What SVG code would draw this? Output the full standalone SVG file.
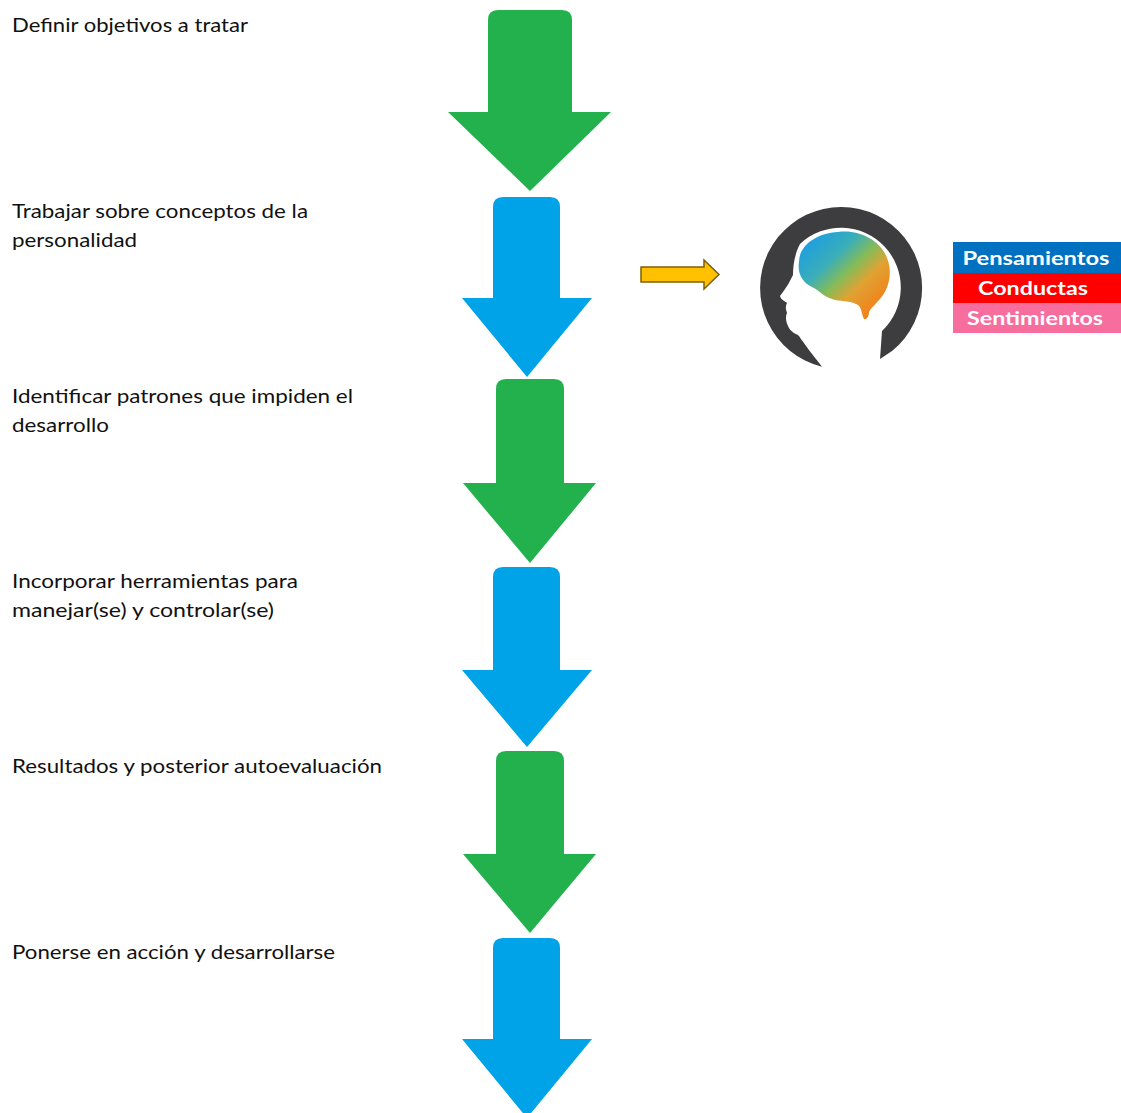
<svg xmlns="http://www.w3.org/2000/svg" width="1121" height="1113" viewBox="0 0 1121 1113">
<defs>
<style>
.lbl{font-family:Lato,"Liberation Sans",sans-serif;font-size:20px;fill:#111}
.g{fill:#22b14c}
.b{fill:#00a2e8}
.tag{font-family:Lato,"Liberation Sans",sans-serif;font-size:19px;font-weight:bold;fill:#fff;text-anchor:middle}
</style>
<linearGradient id="brainGrad" x1="0.1" y1="0.1" x2="0.9" y2="0.9">
<stop offset="0" stop-color="#1e9ee0"/>
<stop offset="0.3" stop-color="#3aaeb8"/>
<stop offset="0.5" stop-color="#86bb58"/>
<stop offset="0.68" stop-color="#e0a232"/>
<stop offset="1" stop-color="#f47c16"/>
</linearGradient>
</defs>
<rect width="1121" height="1113" fill="#fff"/>

<g id="step1">
<path class="g" d="M488,112 V20 Q488,10 498,10 H562 Q572,10 572,20 V112 H611 L530,191 L448,112 Z"/>
<text class="lbl" x="12" y="32" textLength="236" lengthAdjust="spacingAndGlyphs">Definir objetivos a tratar</text>
</g>
<g id="step2">
<path class="b" d="M493,298 V207 Q493,197 503,197 H550 Q560,197 560,207 V298 H592 L527,377 L462,298 Z"/>
<text class="lbl" x="12" y="218" textLength="296" lengthAdjust="spacingAndGlyphs">Trabajar sobre conceptos de la</text>
<text class="lbl" x="12" y="246.5" textLength="125" lengthAdjust="spacingAndGlyphs">personalidad</text>
</g>
<g id="step3">
<path class="g" d="M496,483 V389 Q496,379 506,379 H554 Q564,379 564,389 V483 H596 L530,563 L463,483 Z"/>
<text class="lbl" x="12" y="403" textLength="341" lengthAdjust="spacingAndGlyphs">Identificar patrones que impiden el</text>
<text class="lbl" x="12" y="432" textLength="97" lengthAdjust="spacingAndGlyphs">desarrollo</text>
</g>
<g id="step4">
<path class="b" d="M493,670 V577 Q493,567 503,567 H550 Q560,567 560,577 V670 H592 L527,747 L462,670 Z"/>
<text class="lbl" x="12" y="588" textLength="286" lengthAdjust="spacingAndGlyphs">Incorporar herramientas para</text>
<text class="lbl" x="12" y="617" textLength="262" lengthAdjust="spacingAndGlyphs">manejar(se) y controlar(se)</text>
</g>
<g id="step5">
<path class="g" d="M496,854 V761 Q496,751 506,751 H554 Q564,751 564,761 V854 H596 L530,933 L463,854 Z"/>
<text class="lbl" x="12" y="773" textLength="370" lengthAdjust="spacingAndGlyphs">Resultados y posterior autoevaluación</text>
</g>
<g id="step6">
<path class="b" d="M493,1039 V948 Q493,938 503,938 H550 Q560,938 560,948 V1039 H592 L527,1118 L462,1039 Z"/>
<text class="lbl" x="12" y="959" textLength="323" lengthAdjust="spacingAndGlyphs">Ponerse en acción y desarrollarse</text>
</g>

<g id="connectors">
<path d="M641,267 H704 V260 L719,274.5 L704,289 V282 H641 Z" fill="#ffc000" stroke="#7f6000" stroke-width="1.5" stroke-linejoin="miter"/>
</g>

<g id="head">
<path fill="#3d3d3f" d="M822,366.7 A81,81 0 1,1 892,351 L880,359 L882,331 A59,59 0 1,0 800,244 C795,253 793,265 793,275 C790,281 787,287 780,296 C781,300 785,301 787,303 C785,307 786,310 787,313 C785,317 786,322 789,328 C792,333 797,334 799,336 C805,345 812,354 822,366.7 Z"/>
<path fill="url(#brainGrad)" d="M799,262 C799,246 816,233 838,232 C858,229 881,240 887,258 C893,272 889,290 879,300 C874,306 871,308 869,312 C869,316 867,320 864,319 C861,313 862,306 856,304 C848,300 840,302 832,299 C824,297 820,291 812,287 C803,283 797,274 799,262 Z"/>
</g>

<g id="categories">
<rect x="953" y="242" width="168" height="31" fill="#0070c0"/>
<rect x="953" y="273" width="168" height="30" fill="#ff0000"/>
<rect x="953" y="303" width="168" height="30" fill="#f76d9e"/>
<text class="tag" x="1036" y="265" textLength="147" lengthAdjust="spacingAndGlyphs">Pensamientos</text>
<text class="tag" x="1033" y="295" textLength="110" lengthAdjust="spacingAndGlyphs">Conductas</text>
<text class="tag" x="1035" y="325" textLength="136" lengthAdjust="spacingAndGlyphs">Sentimientos</text>
</g>
</svg>
